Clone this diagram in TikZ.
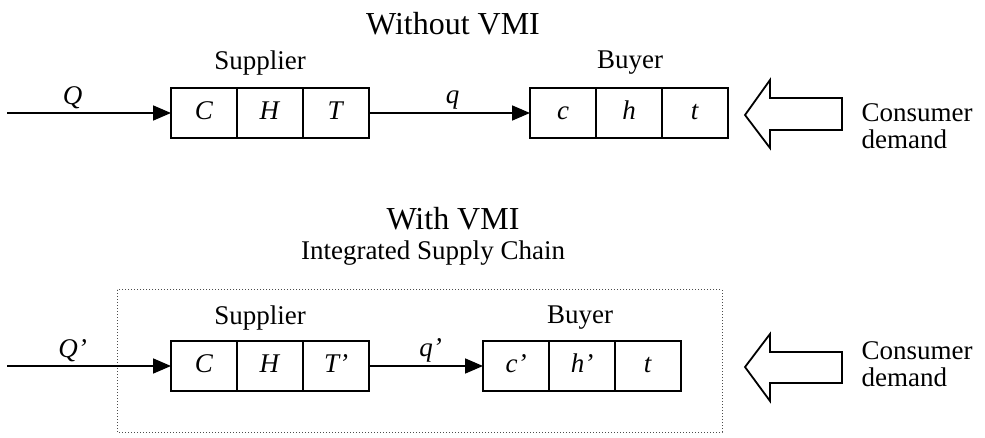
\documentclass[tikz,border=0pt]{standalone}
\usepackage{fontspec}
\setmainfont{Liberation Serif}
\usetikzlibrary{arrows.meta,positioning}

\begin{document}
\begin{tikzpicture}[x=1pt,y=-1pt]
        \tikzstyle{every node}=[font=\fontsize{27}{27}\selectfont]
        \tikzstyle{cell}=[draw,line width=1.8pt,minimum width=66pt,minimum height=50pt,inner sep=0pt,outer sep=0pt,text height=18pt,text depth=5pt]
        \tikzstyle{flow}=[line width=1.8pt,-{Triangle[length=18pt,width=15pt]}]
        \tikzstyle{hollow}=[line width=1.8pt,line join=miter]
        \useasboundingbox (0,0) rectangle (985,438);

        %%% Without VMI
        \node[font=\fontsize{32}{32}\selectfont] (title1) at (453,24) {Without VMI};
        \node (sup1) at (260,63) {Supplier};
        \node (buy1) at (630,63) {Buyer};

        \node[cell] (sC1) at (204,113) {\textit{C}};
        \node[cell,right=0pt of sC1] (sH1) {\textit{H}};
        \node[cell,right=0pt of sH1] (sT1) {\textit{T}};
        \node[cell] (bc1) at (563,113) {\textit{c}};
        \node[cell,right=0pt of bc1] (bh1) {\textit{h}};
        \node[cell,right=0pt of bh1] (bt1) {\textit{t}};

        \coordinate (in1) at (7,113);
        \draw[flow] (in1) -- node[pos=0.4,above,inner sep=3pt] {\textit{Q}} (sC1.west);
        \draw[flow] (sT1.east) -- node[pos=0.52,above,inner sep=3pt] {\textit{q}} (bc1.west);

        \draw[hollow] (745,115) -- ++(25,-35) -- ++(0,18) -- ++(72,0) -- ++(0,32) -- ++(-72,0) -- ++(0,18) -- cycle;
        \node[align=left,anchor=west] (dem1) at (858,126) {Consumer\\demand};

        %%% With VMI
        \node[font=\fontsize{32}{32}\selectfont] (title2) at (453,219) {With VMI};
        \node (chain) at (433,253) {Integrated Supply Chain};
        \draw[dotted,black!70,line width=1pt] (117,290) rectangle (722,432);
        \node (sup2) at (260,318) {Supplier};
        \node (buy2) at (580,318) {Buyer};

        \node[cell] (sC2) at (204,366) {\textit{C}};
        \node[cell,right=0pt of sC2] (sH2) {\textit{H}};
        \node[cell,right=0pt of sH2] (sT2) {\textit{T'}};
        \node[cell] (bc2) at (516,366) {\textit{c'}};
        \node[cell,right=0pt of bc2] (bh2) {\textit{h'}};
        \node[cell,right=0pt of bh2] (bt2) {\textit{t}};

        \coordinate (in2) at (7,366);
        \draw[flow] (in2) -- node[pos=0.4,above,inner sep=3pt] {\textit{Q'}} (sC2.west);
        \draw[flow] (sT2.east) -- node[pos=0.54,above,inner sep=3pt] {\textit{q'}} (bc2.west);

        \draw[hollow] (745,367) -- ++(25,-33) -- ++(0,18) -- ++(72,0) -- ++(0,31) -- ++(-72,0) -- ++(0,18) -- cycle;
        \node[align=left,anchor=west] (dem2) at (858,364) {Consumer\\demand};
\end{tikzpicture}
\end{document}
